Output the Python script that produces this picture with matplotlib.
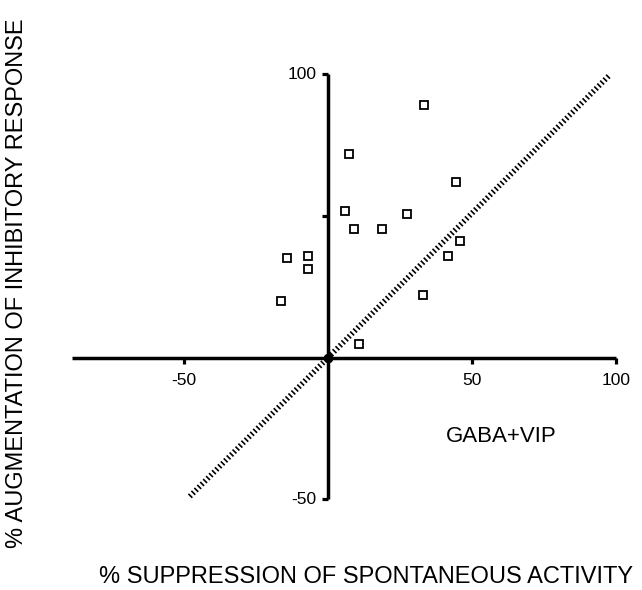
import matplotlib.pyplot as plt
import numpy as np

# =====================
# Data
# =====================
suppression = [33.4, 7.3, 44.3, 5.8, 27.3, 9.1, 18.6, 45.8, -14.1, -7.0, -7.0, 41.6, -16.4, 33.0, 10.9]
augmentation = [89.2, 71.7, 62.1, 51.7, 50.7, 45.3, 45.3, 41.2, 35.3, 35.7, 31.3, 35.9, 20.0, 22.2, 4.7]

x_ticks = [-50, 50, 100]
x_tick_labels = ['-50', '50', '100']
y_ticks = [100, -50]
y_tick_labels = ['100', '-50']
y_minor = [50]

diag = np.array([-48, 98])

plt.rcParams['font.family'] = ['Liberation Sans', 'DejaVu Sans']

fig = plt.figure(figsize=(6.42, 5.90), dpi=100)
ax = fig.add_axes([0, 0, 1, 1])
ax.set_xlim(-113.9, 109.0)
ax.set_ylim(-82.0, 126.2)
ax.axis('off')

# axes lines crossing at origin
ax.plot([-89, 100], [0, 0], color='black', lw=2.5, solid_capstyle='butt', zorder=3)
ax.plot([0, 0], [-50, 100], color='black', lw=2.5, solid_capstyle='butt', zorder=3)

# ticks
for t, lab in zip(x_ticks, x_tick_labels):
    ax.plot([t, t], [0, -2.2], color='black', lw=2.3, solid_capstyle='butt')
    ax.text(t, -5.5, lab, ha='center', va='top', fontsize=12.5)
for t, lab in zip(y_ticks, y_tick_labels):
    ax.plot([0, -2.2], [t, t], color='black', lw=2.3, solid_capstyle='butt')
    ax.text(-4, t, lab, ha='right', va='center', fontsize=12.5)
for t in y_minor:
    ax.plot([0, -2.2], [t, t], color='black', lw=2.3, solid_capstyle='butt')

# unity line
ax.plot(diag, diag * 1.02, color='black', lw=4.0, dashes=(0.3, 0.45), zorder=2)

# data points
ax.plot(suppression, augmentation, 's', ms=5.5, mfc='white', mec='black', mew=1.3, zorder=4)
ax.plot([0], [0], 'o', ms=6, color='black', zorder=5)

ax.text(60, -28, 'GABA+VIP', ha='center', va='center', fontsize=16)

fig.text(0.57, 0.003, '% SUPPRESSION OF SPONTANEOUS ACTIVITY', ha='center', va='bottom', fontsize=17)
fig.text(0.026, 0.52, '% AUGMENTATION OF INHIBITORY RESPONSE', ha='center', va='center',
         rotation=90, fontsize=17)

plt.savefig('out.png', dpi=100)
